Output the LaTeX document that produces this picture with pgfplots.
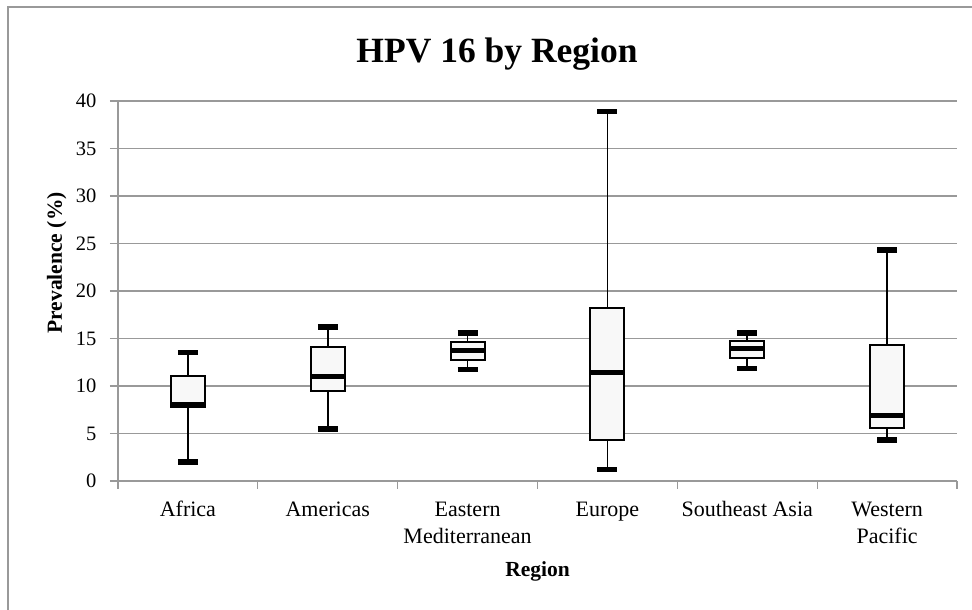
\documentclass[border=0pt]{standalone}
\usepackage{pgfplots}
\pgfplotsset{compat=1.18}
\usepgfplotslibrary{statistics}
\usepackage{fontspec}
\setmainfont{Liberation Serif}
\definecolor{gridgray}{RGB}{153,153,153}
\definecolor{boxfill}{RGB}{248,248,248}
\begin{document}
\begin{tikzpicture}[x=1pt,y=1pt]
\useasboundingbox (0,0) rectangle (972,610);
\draw[gridgray,line width=1.5pt] (8,-5) -- (8,603) -- (980,603);
\node[anchor=base,font=\fontsize{35.5}{40}\selectfont\bfseries] at (497,547) {HPV 16 by Region};
\begin{axis}[
  at={(118pt,129pt)}, anchor=south west,
  scale only axis, width=839pt, height=380pt,
  xmin=-0.5, xmax=5.5, ymin=0, ymax=40,
  ytick={0,5,...,40},
  xtick={-0.5,0.5,...,5.5},
  xticklabels={},
  extra x ticks={0,1,2,3,4,5},
  extra x tick labels={\strut Africa,\strut Americas,\strut Eastern\\\strut Mediterranean,\strut Europe,\strut Southeast Asia,\strut Western\\\strut Pacific},
  extra x tick style={major tick length=0pt, x tick label style={yshift=-16pt}},
  axis x line*=bottom, axis y line*=left,
  axis line style={gridgray,line width=2pt},
  ymajorgrids, major grid style={gridgray,line width=1.3pt},
  tick align=outside,
  major tick length=8pt,
  tick style={gridgray,line width=1.3pt},
  /pgf/number format/assume math mode=true,
  x tick label style={font=\fontsize{22}{27}\selectfont, align=center, inner sep=0pt},
  y tick label style={font=\fontsize{20.5}{24}\selectfont, xshift=-10pt},
  ylabel={Prevalence (\%)},
  xlabel={Region},
  label style={font=\fontsize{21.5}{24}\selectfont\bfseries},
  ylabel style={at={(axis description cs:-0.073,0.574)}, anchor=center},
  xlabel style={at={(axis description cs:0.5,-0.237)}, anchor=center},
  clip=false,
  boxplot/draw direction=y,
  boxplot/box extend=0.243,
  boxplot/whisker extend=0.143,
  boxplot/every box/.style={draw=black,line width=2pt,fill=boxfill},
  boxplot/every median/.style={draw=black,line width=5pt},
  boxplot/draw/lower whisker/.code={%
    \draw[black,line width=1.7pt] (boxplot cs:\pgfplotsboxplotvalue{lower whisker}) -- (boxplot cs:\pgfplotsboxplotvalue{lower quartile});
    \draw[black,line width=5.5pt] (boxplot whisker cs:\pgfplotsboxplotvalue{lower whisker},0) -- (boxplot whisker cs:\pgfplotsboxplotvalue{lower whisker},1);
  },
  boxplot/draw/upper whisker/.code={%
    \draw[black,line width=1.7pt] (boxplot cs:\pgfplotsboxplotvalue{upper whisker}) -- (boxplot cs:\pgfplotsboxplotvalue{upper quartile});
    \draw[black,line width=5.5pt] (boxplot whisker cs:\pgfplotsboxplotvalue{upper whisker},0) -- (boxplot whisker cs:\pgfplotsboxplotvalue{upper whisker},1);
  },
]
\addplot[black, boxplot prepared={draw position=0, lower whisker=2.0, lower quartile=7.8, median=8.0, upper quartile=11.1, upper whisker=13.5}] coordinates {};
\addplot[black, boxplot prepared={draw position=1, lower whisker=5.45, lower quartile=9.5, median=11.05, upper quartile=14.07, upper whisker=16.2}] coordinates {};
\addplot[black, boxplot prepared={draw position=2, lower whisker=11.75, lower quartile=12.7, median=13.7, upper quartile=14.67, upper whisker=15.6}] coordinates {};
\addplot[black, boxplot prepared={draw position=3, lower whisker=1.2, lower quartile=4.3, median=11.44, upper quartile=18.2, upper whisker=38.9}] coordinates {};
\addplot[black, boxplot prepared={draw position=4, lower whisker=11.85, lower quartile=12.9, median=13.9, upper quartile=14.77, upper whisker=15.6}] coordinates {};
\addplot[black, boxplot prepared={draw position=5, lower whisker=4.3, lower quartile=5.6, median=6.9, upper quartile=14.3, upper whisker=24.3}] coordinates {};
\end{axis}
\end{tikzpicture}
\end{document}
